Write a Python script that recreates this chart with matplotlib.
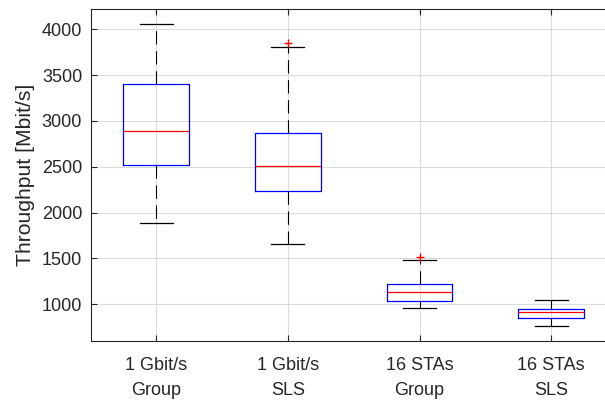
import matplotlib.pyplot as plt

plt.rcParams['font.family'] = ['Liberation Sans', 'DejaVu Sans']

labels = ['1 Gbit/s\nGroup', '1 Gbit/s\nSLS', '16 STAs\nGroup', '16 STAs\nSLS']
whislo = [1887, 1655, 962, 767]
q1 = [2523, 2233, 1038, 854]
med = [2887, 2512, 1136, 916]
q3 = [3400, 2872, 1216, 945]
whishi = [4058, 3810, 1480, 1051]
fliers = [[], [3847], [1513], []]

stats = []
for i in range(len(labels)):
    stats.append({'whislo': whislo[i], 'q1': q1[i], 'med': med[i], 'q3': q3[i],
                  'whishi': whishi[i], 'fliers': fliers[i], 'label': labels[i]})

fig = plt.figure(figsize=(6.05, 4.03), dpi=100)
ax = fig.add_axes([90.5/605, 62.3/403, (617-90.5)/605, (340.7-9)/403])

ax.bxp(stats, widths=0.5, showfliers=True,
       boxprops=dict(color='#0000ff', linewidth=0.9),
       medianprops=dict(color='#ff0000', linewidth=0.9),
       whiskerprops=dict(color='black', linewidth=0.8, linestyle=(0, (12, 6))),
       capprops=dict(color='black', linewidth=0.9),
       capwidths=0.25,
       flierprops=dict(marker='+', markeredgecolor='#ff0000', markersize=5.5, linestyle='none'))

ax.set_xlim(0.5, 4.5)
ax.set_ylim(603, 4221)
ax.set_yticks([1000, 1500, 2000, 2500, 3000, 3500, 4000])
ax.set_ylabel('Throughput [Mbit/s]', fontsize=15.2, color='#262626', labelpad=5)
ax.grid(True, color='#dcdcdc', linewidth=0.8)
ax.set_axisbelow(True)
ax.tick_params(direction='in', labelsize=13, colors='#262626', length=4,
               top=True, right=True)
ax.tick_params(axis='y', pad=6)
ax.tick_params(axis='x', pad=12)
for t in ax.get_xticklabels():
    t.set_linespacing(1.6)
for s in ax.spines.values():
    s.set_color('#262626')
    s.set_linewidth(0.8)

fig.savefig('out.png', dpi=100)
